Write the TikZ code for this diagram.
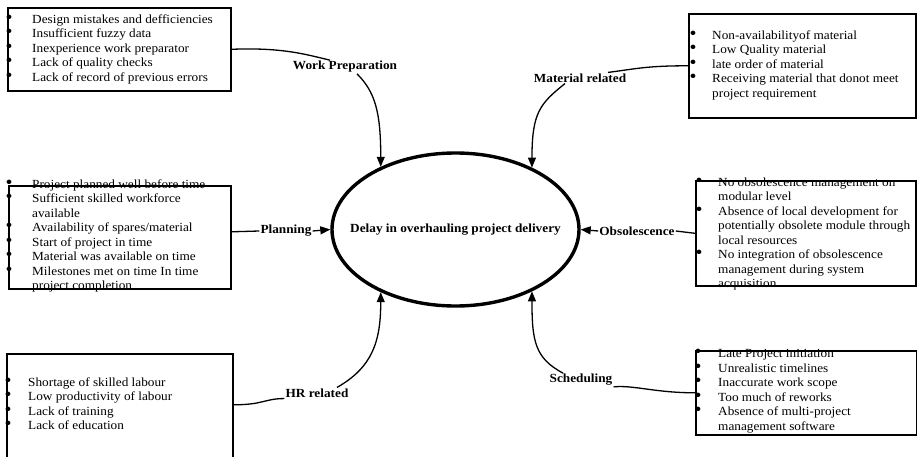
\documentclass[tikz,border=0pt]{standalone}
\usepackage{fontspec}
\setmainfont{Liberation Serif}[FakeStretch=1.07]
\usepackage{graphicx}
\usetikzlibrary{arrows.meta,shapes.geometric}

% bullet hanging to the left of a list line; #1 = distance from bullet centre to text
\newcommand\itm[1]{\llap{\makebox[0pt][c]{\scalebox{1.5}{\textbullet}}\hspace{#1}}}

\tikzset{
  box/.style={draw, line width=1.6pt, inner sep=0pt, anchor=north west},
  items/.style={anchor=north west, inner sep=0pt, align=left,
                font=\fontsize{12.4}{14.5}\selectfont},
  lab/.style={font=\fontsize{12.4}{14}\selectfont\bfseries, inner sep=1pt},
  link/.style={line width=1.3pt},
  feed/.style={line width=1.3pt, -{Triangle[length=10pt,width=8pt]}},
  core/.style={ellipse, draw, line width=3.4pt, minimum width=247pt,
               minimum height=153pt, inner sep=0pt},
}

\begin{document}
\begin{tikzpicture}[x=1pt, y=-1pt]
\useasboundingbox (0,0) rectangle (917,457);

% central effect
\node[core] (delay) at (455.5,229.5) {};
\node[lab] (delaytext) at (455.5,230) {Delay in overhauling project delivery};

% cause lists
\node[items] (wptext) at (32,14.4) {%
  \itm{23pt}Design mistakes and defficiencies\\
  \itm{23pt}Insufficient fuzzy data\\
  \itm{23pt}Inexperience work preparator\\
  \itm{23pt}Lack of quality checks\\
  \itm{23pt}Lack of record of previous errors};
\node[box, minimum width=223pt, minimum height=83pt] (wpbox) at (7,7) {};

\node[items] (mattext) at (712,30.4) {%
  \itm{19pt}Non-availabilityof material\\
  \itm{19pt}Low Quality material\\
  \itm{19pt}late order of material\\
  \itm{19pt}Receiving material that donot meet\\
  project requirement};
\node[box, minimum width=227pt, minimum height=104pt] (matbox) at (688,13) {};

\node[items] (pltext) at (32,179.4) {%
  \itm{23pt}Project planned well before time\\
  \itm{23pt}Sufficient skilled workforce\\
  available\\
  \itm{23pt}Availability of spares/material\\
  \itm{23pt}Start of project in time\\
  \itm{23pt}Material was available on time\\
  \itm{23pt}Milestones met on time In time\\
  project completion};
\node[box, minimum width=222pt, minimum height=103pt] (plbox) at (8,185) {};

\node[items] (obtext) at (718,177.4) {%
  \itm{19pt}No obsolescence management on\\
  modular level\\
  \itm{19pt}Absence of local development for\\
  potentially obsolete module through\\
  local resources\\
  \itm{19pt}No integration of obsolescence\\
  management during system\\
  acquisition};
\node[box, minimum width=220pt, minimum height=105pt] (obbox) at (695,180) {};

\node[items] (hrtext) at (28,377.4) {%
  \itm{20pt}Shortage of skilled labour\\
  \itm{20pt}Low productivity of labour\\
  \itm{20pt}Lack of training\\
  \itm{20pt}Lack of education};
\node[box, minimum width=226pt, minimum height=120pt] (hrbox) at (6,353) {};

\node[items] (sctext) at (718,349.4) {%
  \itm{20pt}Late Project initiation\\
  \itm{20pt}Unrealistic timelines\\
  \itm{20pt}Inaccurate work scope\\
  \itm{20pt}Too much of reworks\\
  \itm{20pt}Absence of multi-project\\
  management software};
\node[box, minimum width=221pt, minimum height=84pt] (scbox) at (695,350) {};

% category labels
\node[lab] (wplab) at (345,67) {Work Preparation};
\node[lab] (matlab) at (580,78) {Material related};
\node[lab] (pllab) at (286,231) {Planning};
\node[lab] (oblab) at (637,231) {Obsolescence};
\node[lab] (hrlab) at (317,393) {HR related};
\node[lab] (sclab) at (581,380) {Scheduling};

% box -> label
\draw[link] (wpbox.east) .. controls +(50,-2) and +(-25,-6) .. ([xshift=-15pt]wplab.north);
\draw[link] (matbox.west) .. controls +(-40,0) and +(30,-4) .. ([xshift=28pt]matlab.north);
\draw[link] ([yshift=5.5pt]plbox.east) -- (pllab.west);
\draw[link] (obbox.west) -- (oblab.east);
\draw[link] ([yshift=9pt]hrbox.east) .. controls +(30,0) and +(-20,0) .. (hrlab.south west);
\draw[link] (scbox.west) .. controls +(-40,0) and +(20,-2) .. (sclab.south east);

% label -> effect
\draw[feed] ([xshift=12pt]wplab.south) .. controls +(18,18) and +(0,-55) .. (delay.140);
\draw[feed] ([xshift=-15pt]matlab.south) .. controls +(-25,20) and +(0,-55) .. (delay.39);
\draw[feed] (pllab.east) -- (delay.west);
\draw[feed] (oblab.west) -- (delay.east);
\draw[feed] ([xshift=20pt]hrlab.north) .. controls +(35,-20) and +(0,50) .. (delay.220);
\draw[feed] ([xshift=-18pt]sclab.north) .. controls +(-28,-15) and +(0,50) .. (delay.321);
\end{tikzpicture}
\end{document}
